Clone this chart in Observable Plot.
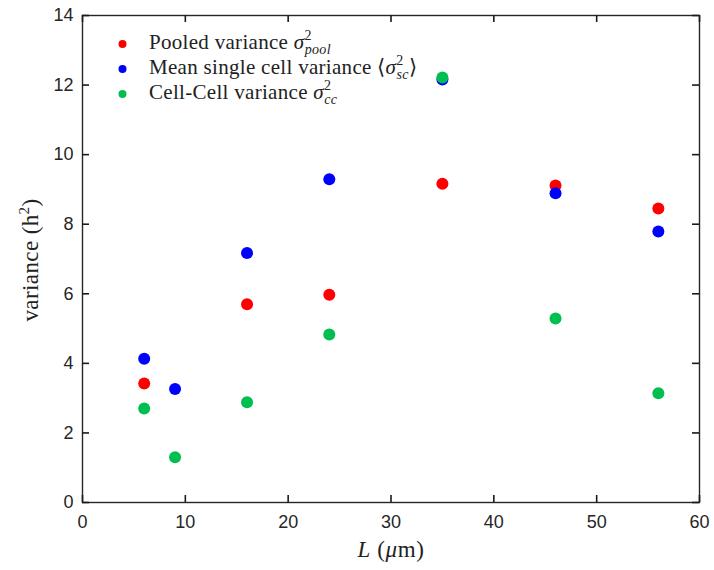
<!DOCTYPE html>
<html><head><meta charset="utf-8">
<script src="https://cdn.jsdelivr.net/npm/d3@7"></script>
<script src="https://cdn.jsdelivr.net/npm/@observablehq/plot@0.6"></script>
<style>body{margin:0;background:#fff} svg{display:block}</style>
</head><body><div id="chart"></div>
<script>
const lengths = [6, 9, 16, 24, 35, 46, 56];
const pooledVariance = [3.42, null, 5.70, 5.97, 9.16, 9.11, 8.45];
const singleCellVariance = [4.13, 3.26, 7.17, 9.29, 12.16, 8.89, 7.79];
const cellCellVariance = [2.70, 1.30, 2.88, 4.83, 12.22, 5.29, 3.14];
const seriesKeys = ["pool", "sc", "cc"];
const seriesColors = ["#ff0000", "#0000ff", "#00bf50"];
const xTicks = [0, 10, 20, 30, 40, 50, 60];
const yTicks = [0, 2, 4, 6, 8, 10, 12, 14];

const seriesValues = [pooledVariance, singleCellVariance, cellCellVariance];
const data = [];
seriesKeys.forEach((k, s) => lengths.forEach((L, i) => {
  if (seriesValues[s][i] != null) data.push({series: k, L, v: seriesValues[s][i]});
}));

const W = 714, H = 570, mL = 82, mR = 15, mT = 15, mB = 68;
const plotW = W - mL - mR, plotH = H - mT - mB, tickLen = 7;
const axisColor = "#262626";
const sans = "'Liberation Sans', Arial, Helvetica, sans-serif";
const serif = "'Liberation Serif', 'Times New Roman', serif";
const tk = {stroke: "#1a1a1a", strokeWidth: 1.6};

const svg = Plot.plot({
  width: W, height: H,
  marginLeft: mL, marginRight: mR, marginTop: mT, marginBottom: mB,
  style: {background: "#fff", color: axisColor},
  x: {domain: [0, 60], label: null},
  y: {domain: [0, 14], label: null},
  color: {domain: seriesKeys, range: seriesColors},
  marks: [
    Plot.axisX(xTicks, {tickSize: 0, tickPadding: 13, fontSize: 18, fontFamily: sans, fill: axisColor, label: null}),
    Plot.axisY(yTicks, {tickSize: 0, tickPadding: 9, fontSize: 18, fontFamily: sans, fill: axisColor, label: null}),
    Plot.frame({stroke: axisColor, strokeWidth: 1.4}),
    Plot.tickX(xTicks, {x: d => d, insetTop: plotH - tickLen, ...tk}),
    Plot.tickX(xTicks, {x: d => d, insetBottom: plotH - tickLen, ...tk}),
    Plot.tickY(yTicks, {y: d => d, insetRight: plotW - tickLen, ...tk}),
    Plot.tickY(yTicks, {y: d => d, insetLeft: plotW - tickLen, ...tk}),
    Plot.dot(data, {x: "L", y: "v", fill: "series", r: 6, stroke: "none"})
  ]
});
document.getElementById("chart").append(svg);

const g = d3.select(svg).append("g").attr("font-family", serif).attr("fill", "#222")
  .attr("text-anchor", "start");
// y label
const yl = g.append("text").attr("transform", "translate(38,260) rotate(-90)")
  .attr("text-anchor", "middle").attr("font-size", 23).attr("letter-spacing", 0.4);
yl.append("tspan").text("variance (h");
yl.append("tspan").attr("font-size", 15).attr("dy", -9).text("2");
yl.append("tspan").attr("dy", 9).text(")");
// x label
const xl = g.append("text").attr("x", 391).attr("y", 557).attr("text-anchor", "middle")
  .attr("font-size", 23).attr("letter-spacing", 0.6);
xl.append("tspan").attr("font-style", "italic").text("L");
xl.append("tspan").text(" (");
xl.append("tspan").attr("font-style", "italic").text("μ");
xl.append("tspan").text("m)");

// legend
const legendRows = [
  {pre: "Pooled variance ", sub: "pool", open: "", close: ""},
  {pre: "Mean single cell variance ", sub: "sc", open: "⟨", close: "⟩"},
  {pre: "Cell-Cell variance ", sub: "cc", open: "", close: ""}
];
legendRows.forEach((row, i) => {
  const y = 44 + i * 25;
  g.append("circle").attr("cx", 122.5).attr("cy", y).attr("r", 4).attr("fill", seriesColors[i]);
  const t = g.append("text").attr("x", 149).attr("y", y + 5).attr("font-size", 21)
    .attr("letter-spacing", 0.3);
  t.append("tspan").text(row.pre + row.open);
  t.append("tspan").attr("font-style", "italic").text("σ");
  t.append("tspan").attr("font-size", 14).attr("dy", -9).text("2");
  t.append("tspan").attr("font-size", 14).attr("font-style", "italic").attr("dx", -7).attr("dy", 14).text(row.sub);
  if (row.close) t.append("tspan").attr("dy", -5).text(row.close);
});
</script></body></html>
